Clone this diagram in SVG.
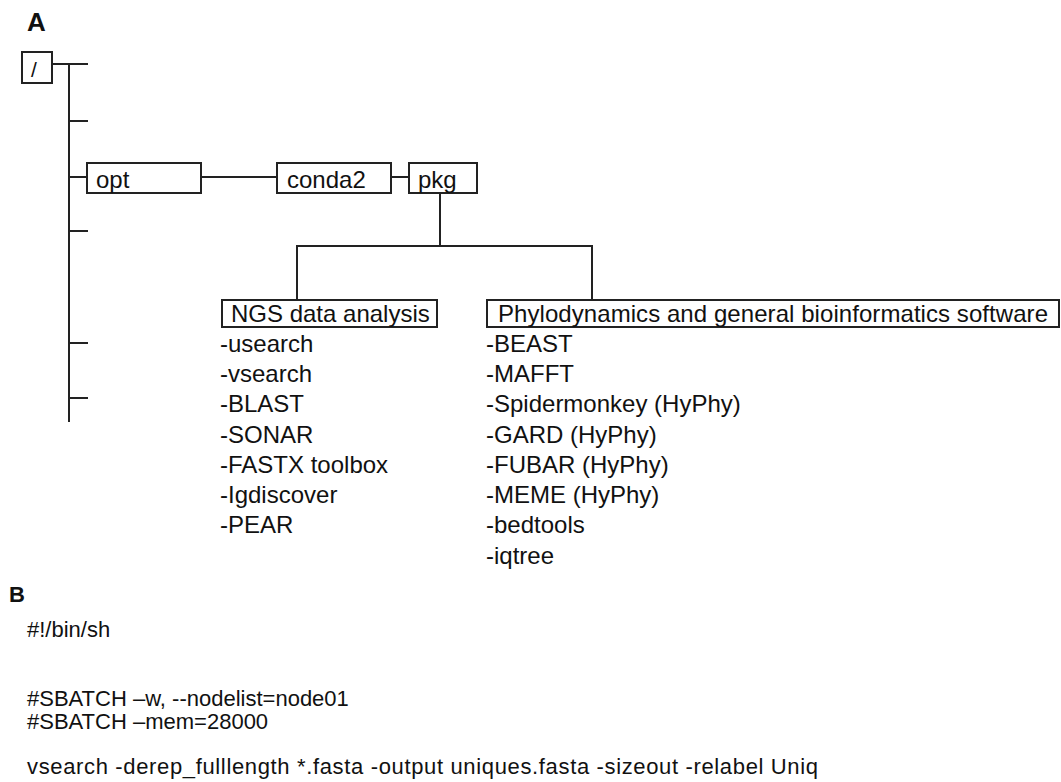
<svg xmlns="http://www.w3.org/2000/svg" width="1061" height="782" viewBox="0 0 1061 782">
<style>
text { font-family: "Liberation Sans", Arial, Helvetica, sans-serif; fill: #111; }
.lbl { font-size: 24px; }
.hd { font-size: 26px; font-weight: bold; }
.code { font-size: 22px; }
.box { fill: #fff; stroke: #222; stroke-width: 2; }
.ln { stroke: #222; stroke-width: 2; fill: none; }
</style>
<rect width="1061" height="782" fill="#fff"/>
<text id="labelA" class="hd" x="27" y="31">A</text>
<g id="connectors">
<path class="ln" d="M52 64 H88 M69 64 V422 M69 121 H88 M69 177 H87 M69 231 H88 M69 343 H88 M69 398 H88 M201 177 H277 M391 177 H409 M440 193 V246 M297 246 H592 M297 245 V300 M592 245 V300"/>
</g>
<g id="root"><rect class="box" x="22" y="52" width="30" height="31"/><text x="31" y="77" style="font-size:21px">/</text></g>
<g id="opt"><rect class="box" x="87" y="163" width="114" height="30"/><text class="lbl" x="96" y="188">opt</text></g>
<g id="conda2"><rect class="box" x="277" y="163" width="114" height="30"/><text class="lbl" x="287" y="188">conda2</text></g>
<g id="pkg"><rect class="box" x="409" y="163" width="68" height="30"/><text class="lbl" x="418" y="188">pkg</text></g>
<g id="ngs"><rect class="box" x="222" y="300" width="215" height="27"/><text class="lbl" x="231" y="322">NGS data analysis</text>
<text class="lbl" x="220" y="352">-usearch</text>
<text class="lbl" x="220" y="382">-vsearch</text>
<text class="lbl" x="220" y="412">-BLAST</text>
<text class="lbl" x="220" y="443">-SONAR</text>
<text class="lbl" x="220" y="473">-FASTX toolbox</text>
<text class="lbl" x="220" y="503">-Igdiscover</text>
<text class="lbl" x="220" y="533">-PEAR</text>
</g>
<g id="phylo"><rect class="box" x="487" y="300" width="572" height="27"/><text class="lbl" x="498" y="322" textLength="550">Phylodynamics and general bioinformatics software</text>
<text class="lbl" x="486" y="352">-BEAST</text>
<text class="lbl" x="486" y="382">-MAFFT</text>
<text class="lbl" x="486" y="412">-Spidermonkey (HyPhy)</text>
<text class="lbl" x="486" y="443">-GARD (HyPhy)</text>
<text class="lbl" x="486" y="473">-FUBAR (HyPhy)</text>
<text class="lbl" x="486" y="503">-MEME (HyPhy)</text>
<text class="lbl" x="486" y="533">-bedtools</text>
<text class="lbl" x="486" y="564">-iqtree</text>
</g>
<text id="labelB" class="hd" x="9" y="602" style="font-size:22px">B</text>
<g id="script">
<text class="code" x="27" y="637">#!/bin/sh</text>
<text class="code" x="27" y="706">#SBATCH –w, --nodelist=node01</text>
<text class="code" x="27" y="729">#SBATCH –mem=28000</text>
<text class="code" x="27" y="774" textLength="791">vsearch -derep_fulllength *.fasta -output uniques.fasta -sizeout -relabel Uniq</text>
</g>
</svg>
